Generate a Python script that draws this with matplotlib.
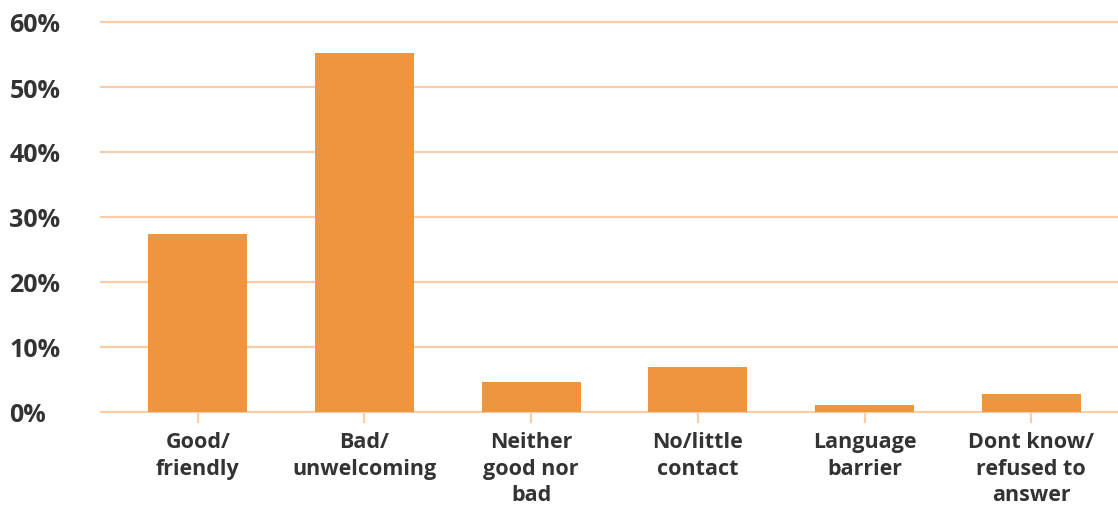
import matplotlib.pyplot as plt

categories = ['Good/\nfriendly', 'Bad/\nunwelcoming', 'Neither\ngood nor\nbad',
              'No/little\ncontact', 'Language\nbarrier', 'Dont know/\nrefused to\nanswer']
values = [27.4, 55.2, 4.6, 6.9, 1.1, 2.8]
yticks = [0, 10, 20, 30, 40, 50, 60]

bar_color = '#EF953F'
grid_color = '#F8CDA8'
text_color = '#333333'

plt.rcParams['font.family'] = ['Open Sans', 'DejaVu Sans']

fig = plt.figure(figsize=(11.18, 5.06), dpi=100)
ax = fig.add_axes([101 / 1118, 1 - 413 / 506, 1 - 101 / 1118, (413 - 23) / 506])

x_pos = list(range(len(categories)))
ax.bar(x_pos, values, width=0.595, color=bar_color, zorder=3)

ax.set_xlim(-0.58, 5.52)
ax.set_ylim(0, 60)
ax.set_yticks(yticks)
ax.set_yticklabels([f'{v}%' for v in yticks])
ax.set_xticks(x_pos)
ax.set_xticklabels(categories)

for v in yticks:
    ax.axhline(v, color=grid_color, lw=1.6, zorder=1, clip_on=False)

for s in ax.spines.values():
    s.set_visible(False)

ax.tick_params(axis='y', length=0, pad=66, labelsize=18, labelcolor=text_color)
for lbl in ax.get_yticklabels():
    lbl.set_horizontalalignment('left')
    lbl.set_fontweight('bold')

ax.tick_params(axis='x', length=8, width=1.6, color=grid_color, pad=6,
               labelsize=15.5, labelcolor=text_color)
for lbl in ax.get_xticklabels():
    lbl.set_fontweight('bold')
    lbl.set_linespacing(1.33)

fig.savefig('out.png', dpi=100)
